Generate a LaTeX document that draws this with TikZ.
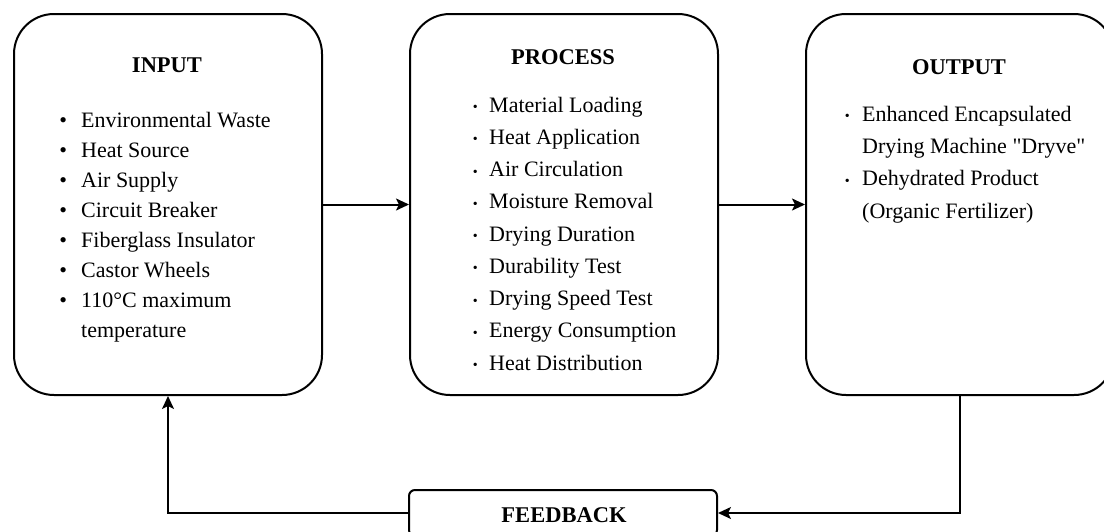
\documentclass[tikz,border=0pt]{standalone}
\usepackage{fontspec}
\setmainfont{Liberation Serif}
\usetikzlibrary{arrows.meta}
\newcommand{\bigbul}{\llap{\textbullet\hspace{14pt}}}
\newcommand{\smbulA}{\llap{\raisebox{0.3pt}{\fontsize{14}{14}\selectfont\textbullet}\hspace{11.5pt}}}
\newcommand{\smbulB}{\llap{\raisebox{0.3pt}{\fontsize{14}{14}\selectfont\textbullet}\hspace{12.5pt}}}
\begin{document}
\begin{tikzpicture}[x=1pt,y=-1pt,
  box/.style={draw, line width=2pt, rounded corners=40pt, minimum width=308pt, minimum height=381pt, inner sep=0pt, anchor=north west},
  fbbox/.style={draw, line width=2pt, rounded corners=6pt, minimum width=308pt, minimum height=46pt, inner sep=0pt},
  ttl/.style={font=\fontsize{22.5}{27}\selectfont\bfseries, anchor=base, inner sep=0pt},
  itm/.style={font=\fontsize{22}{26}\selectfont, anchor=base west, inner sep=0pt},
  arr/.style={line width=2pt, -{Stealth[length=13pt,width=12pt,inset=3pt]}}]
\useasboundingbox (0,0) rectangle (1104,531);
\clip (0,0) rectangle (1104,531);

% boxes
\node[box] (input) at (13,13) {};
\node[box] (process) at (409,13) {};
\node[box] (output) at (805,13) {};
\node[fbbox] (feedback) at (563,513) {};

% titles
\node[ttl] (tin) at (167,72) {INPUT};
\node[ttl] (tpr) at (563,64) {PROCESS};
\node[ttl] (tout) at (959,74.5) {OUTPUT};
\node[ttl] (tfb) at (564,522) {FEEDBACK};

% input items
\node[itm] (in1) at (81,127) {\bigbul Environmental Waste};
\node[itm] (in2) at (81,157) {\bigbul Heat Source};
\node[itm] (in3) at (81,187) {\bigbul Air Supply};
\node[itm] (in4) at (81,217) {\bigbul Circuit Breaker};
\node[itm] (in5) at (81,247) {\bigbul Fiberglass Insulator};
\node[itm] (in6) at (81,277) {\bigbul Castor Wheels};
\node[itm] (in7) at (81,307) {\bigbul 110°C maximum};
\node[itm] (in8) at (81,337) {temperature};

% process items
\node[itm] (pr1) at (489,112) {\smbulA Material Loading};
\node[itm] (pr2) at (489,144.25) {\smbulA Heat Application};
\node[itm] (pr3) at (489,176.5) {\smbulA Air Circulation};
\node[itm] (pr4) at (489,208.75) {\smbulA Moisture Removal};
\node[itm] (pr5) at (489,241) {\smbulA Drying Duration};
\node[itm] (pr6) at (489,273.25) {\smbulA Durability Test};
\node[itm] (pr7) at (489,305.5) {\smbulA Drying Speed Test};
\node[itm] (pr8) at (489,337.75) {\smbulA Energy Consumption};
\node[itm] (pr9) at (489,370) {\smbulA Heat Distribution};

% output items
\node[itm] (ou1) at (862,121) {\smbulB Enhanced Encapsulated};
\node[itm] (ou2) at (862,153.3) {Drying Machine \textquotedbl Dryve\textquotedbl};
\node[itm] (ou3) at (862,185.6) {\smbulB Dehydrated Product};
\node[itm] (ou4) at (862,218) {(Organic Fertilizer)};

% connectors
\draw[arr] (input.east) -- (process.west);
\draw[arr] (process.east) -- (output.west);
\draw[arr] (output.south) |- (feedback.east);
\draw[arr] (feedback.west) -| (input.south);
\end{tikzpicture}
\end{document}
